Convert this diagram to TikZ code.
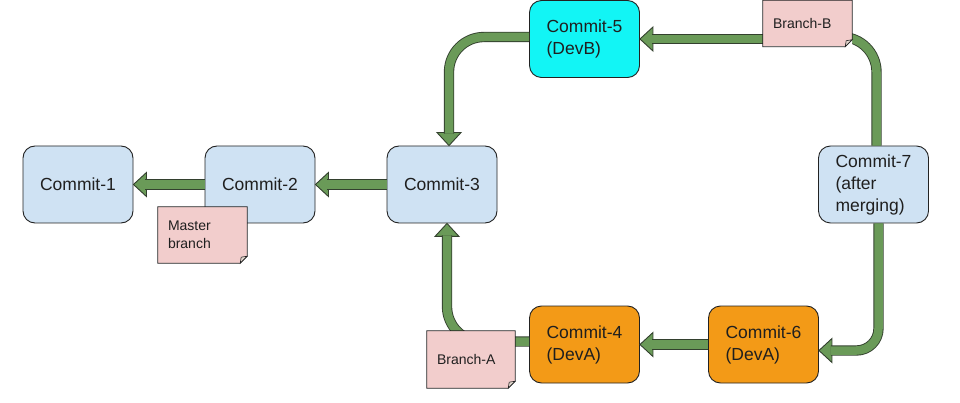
\documentclass[tikz,border=0pt]{standalone}
\usepackage{fontspec}
\setmainfont{Liberation Sans}
\usetikzlibrary{calc}
\pgfdeclarelayer{back}
\pgfsetlayers{back,main}
\definecolor{cblue}{HTML}{CFE2F3}
\definecolor{ccyan}{HTML}{12F5F5}
\definecolor{corange}{HTML}{F39A17}
\definecolor{npink}{HTML}{F2CDCC}
\definecolor{nfold}{HTML}{E4D8CF}
\definecolor{agreen}{HTML}{6A9A58}
\definecolor{aline}{HTML}{33402E}
\definecolor{edge}{HTML}{222222}
\tikzset{
 commit/.style={rectangle, rounded corners=12pt, draw=edge, line width=0.9pt,
   minimum width=110pt, minimum height=77pt, align=left, inner sep=2pt,
   font=\fontsize{17.5}{22}\selectfont, text=black!88},
 note/.style={rectangle, fill=npink, minimum width=89pt, minimum height=56pt,
   inner xsep=10pt, inner ysep=2pt, text width=69pt, align=left,
   font=\fontsize{14}{18}\selectfont, text=black!88},
 noteborder/.style={draw=edge, line width=0.8pt, line join=miter},
 foldstyle/.style={fill=nfold, draw=edge, line width=0.6pt},
 shaft/.style={draw=aline, line width=0.9pt, double=agreen, double distance=8.5pt},
 tipped/.style={shaft, shorten >=12pt},
 headstyle/.style={fill=agreen, draw=aline, line width=0.9pt, line join=miter},
 headL/.pic={\filldraw[headstyle] (0,0) -- (13,-12) -- (13,12) -- cycle;},
 headU/.pic={\filldraw[headstyle] (0,0) -- (-12,13) -- (12,13) -- cycle;},
 headD/.pic={\filldraw[headstyle] (0,0) -- (-12,-13) -- (12,-13) -- cycle;},
}
\newcommand\notedeco[1]{%
 \fill[white] ($(#1.south east)+(0,-7)$) -- (#1.south east) -- ($(#1.south east)+(-7,0)$) -- cycle;
 \draw[noteborder] (#1.north west) -- (#1.north east) -- ($(#1.south east)+(0,-7)$)
   -- ($(#1.south east)+(-7,0)$) -- (#1.south west) -- cycle;
 \filldraw[foldstyle] ($(#1.south east)+(0,-7)$) -- ($(#1.south east)+(-7,0)$)
   -- ($(#1.south east)+(-6,-6)$) -- cycle;
}
\begin{document}
\begin{tikzpicture}[x=1pt,y=-1pt]
\useasboundingbox (0,0) rectangle (960,403);
% notes (on top)
\node[note] (master) at (202.5,235) {Master\\branch};
\node[note, minimum height=46pt] (branchB) at (807.5,23.5) {Branch-B};
\node[note, minimum width=88pt, text width=68pt, minimum height=57pt] (branchA) at (471,359.5) {Branch-A};
\notedeco{master}
\notedeco{branchB}
\notedeco{branchA}
\begin{pgfonlayer}{back}
% commits
\node[commit, fill=cblue] (c1) at (78,184.5) {Commit-1};
\node[commit, fill=cblue] (c2) at (260,184.5) {Commit-2};
\node[commit, fill=cblue] (c3) at (442,184.5) {Commit-3};
\node[commit, fill=ccyan] (c5) at (584.5,39) {Commit-5\\(DevB)};
\node[commit, fill=cblue] (c7) at (873.5,184.5) {Commit-7\\(after\\merging)};
\node[commit, fill=corange] (c4) at (584.5,344.5) {Commit-4\\(DevA)};
\node[commit, fill=corange] (c6) at (763.5,344.5) {Commit-6\\(DevA)};
% helper coordinates
\coordinate (c3in) at ($(c3.north)+(7,0)$);
\coordinate (c3out) at ($(c3.south)+(5,0)$);
\coordinate (c6in) at ($(c6.east)+(0,6)$);
% arrow heads
\pic at (c1.east) {headL};
\pic at (c2.east) {headL};
\pic at (c3in) {headD};
\pic at (c5.east) {headL};
\pic at (c6in) {headL};
\pic at (c4.east) {headL};
\pic at (c3out) {headU};
% shafts
\draw[tipped] (c2.west) -- (c1.east);
\draw[tipped] (c3.west) -- (c2.east);
\draw[tipped, rounded corners=35pt] ($(c5.west)+(0,-2)$) -| (c3in);
\draw[tipped] (branchB.west |- c5.east) -- (c5.east);
\draw[shaft, rounded corners=35pt] ($(c7.north)+(3,0)$) |- ($(branchB.center |- c5.east)+(0,-2)$);
\draw[tipped, rounded corners=22pt] ($(c7.south)+(5,0)$) |- (c6in);
\draw[tipped] (c6.west) -- (c4.east);
\draw[tipped, rounded corners=35pt] ($(c4.west)+(0,-3)$) -| (c3out);
\end{pgfonlayer}
\end{tikzpicture}
\end{document}
